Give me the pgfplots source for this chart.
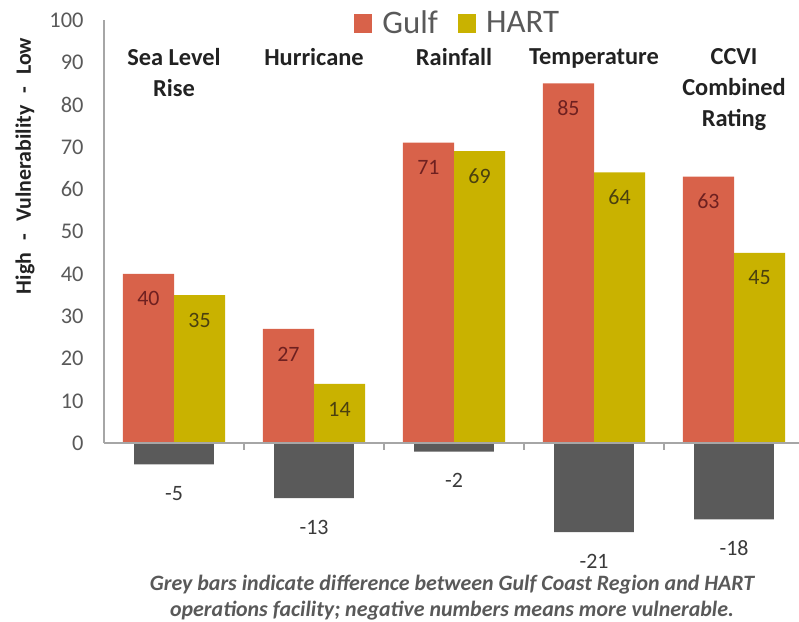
\documentclass[border=0pt]{standalone}
\usepackage{pgfplots}
\pgfplotsset{compat=1.18}
\usepackage{fontspec}
\setmainfont{Carlito}

\definecolor{gulf}{HTML}{D8624A}
\definecolor{hart}{HTML}{C9B200}
\definecolor{diffgrey}{HTML}{5A5A5A}
\definecolor{gulftext}{HTML}{6E2020}
\definecolor{harttext}{HTML}{4A400F}
\definecolor{difftext}{HTML}{3A3A3A}
\definecolor{ticktext}{HTML}{595959}
\definecolor{axisline}{HTML}{A6A6A6}
\definecolor{headtext}{HTML}{222222}

\pgfplotsset{
  sqlegend/.style={legend image code/.code={\path[##1,draw=none] (0bp,-9.5bp) rectangle (18bp,9.5bp);}},
}

\begin{document}
\begin{tikzpicture}
\path[use as bounding box] (0,0) rectangle (799bp,622bp);
\begin{axis}[
  at={(104bp,73bp)}, anchor=south west,
  scale only axis, width=695bp, height=529bp,
  xmin=-0.5, xmax=4.464, ymin=-25, ymax=100,
  clip=false,
  ybar,
  axis line style={draw=none},
  major tick length=0pt,
  /pgf/number format/assume math mode=true,
  ytick={0,10,...,100},
  yticklabel style={font=\fontsize{22.5}{22.5}\selectfont, text=ticktext, xshift=-17bp},
  xtick={0,...,4},
  xticklabels={{Sea Level\\Rise},Hurricane,Rainfall,Temperature,{CCVI\\Combined\\Rating}},
  xticklabel pos=upper,
  xticklabel style={anchor=north, yshift=-25bp, align=center,
    font=\fontsize{24.5}{31}\selectfont\bfseries, text=headtext},
  ylabel={High\hspace{0.55em}-\hspace{0.55em}Vulnerability\hspace{0.55em}-\hspace{0.55em}Low},
  ylabel style={at={(axis cs:-1.064,65.5)}, anchor=center,
    font=\fontsize{22}{22}\selectfont\bfseries, text=headtext},
  legend style={at={(0.509,0.994)}, anchor=center, draw=none, fill=none,
    legend columns=2, font=\fontsize{33}{33}\selectfont, text=ticktext,
    /tikz/every odd column/.append style={column sep=8bp},
    /tikz/every even column/.append style={column sep=18bp}},
  legend cell align=left,
]
% Gulf Coast region ratings
\addplot[fill=gulf, draw=none, bar width=0.365, bar shift=-0.1825, sqlegend,
  nodes near coords,
  every node near coord/.append style={anchor=center, yshift=-25bp,
    font=\fontsize{22}{22}\selectfont, text=gulftext}]
  coordinates {(0,40) (1,27) (2,71) (3,85) (4,63)};
% HART operations facility ratings
\addplot[fill=hart, draw=none, bar width=0.365, bar shift=0.1825, sqlegend,
  nodes near coords,
  every node near coord/.append style={anchor=center, yshift=-25bp,
    font=\fontsize{22}{22}\selectfont, text=harttext}]
  coordinates {(0,35) (1,14) (2,69) (3,64) (4,45)};
% difference HART minus Gulf
\addplot[fill=diffgrey, draw=none, bar width=0.57, bar shift=0, forget plot,
  nodes near coords,
  every node near coord/.append style={anchor=center, yshift=-29bp,
    font=\fontsize{22}{22}\selectfont, text=difftext}]
  coordinates {(0,-5) (1,-13) (2,-2) (3,-21) (4,-18)};
\legend{Gulf,HART}

% axis lines and category separators
\draw[axisline, line width=1.8bp] (axis cs:-0.5,0) -- (axis cs:-0.5,100);
\draw[axisline, line width=1.8bp] (axis cs:-0.5,0) -- (axis cs:4.464,0);
\draw[axisline, line width=1.5bp] (axis cs:0.5,0) -- ([yshift=-7bp]axis cs:0.5,0);
\draw[axisline, line width=1.5bp] (axis cs:1.5,0) -- ([yshift=-7bp]axis cs:1.5,0);
\draw[axisline, line width=1.5bp] (axis cs:2.5,0) -- ([yshift=-7bp]axis cs:2.5,0);
\draw[axisline, line width=1.5bp] (axis cs:3.5,0) -- ([yshift=-7bp]axis cs:3.5,0);

\node[align=center, font=\fontsize{22}{27}\selectfont\bfseries\itshape, text=ticktext]
  at (axis cs:1.986,-36.5)
  {Grey bars indicate difference between Gulf Coast Region and HART\\
   operations facility; negative numbers means more vulnerable.};
\end{axis}
\end{tikzpicture}
\end{document}
